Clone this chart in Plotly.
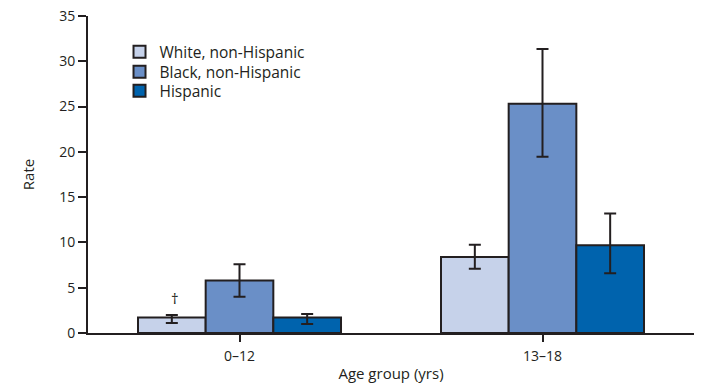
import plotly.graph_objects as go

categories = ["0–12", "13–18"]
series_names = ["White, non-Hispanic", "Black, non-Hispanic", "Hispanic"]
white_vals = [1.7, 8.4]
white_hi = [2.0, 9.75]
white_lo = [1.1, 7.1]
black_vals = [5.8, 25.3]
black_hi = [7.6, 31.35]
black_lo = [4.0, 19.45]
hisp_vals = [1.7, 9.7]
hisp_hi = [2.1, 13.2]
hisp_lo = [1.0, 6.6]
y_ticks = [0, 5, 10, 15, 20, 25, 30, 35]

colors = ["#c6d2ea", "#6a8fc7", "#0063ad"]
dark = "#231f20"
font_family = "Open Sans, Noto Sans, sans-serif"
legend_ids = ["legend", "legend2", "legend3"]
legend_rows = [0.886, 0.823, 0.763]

fig = go.Figure()
for i, (name, vals, hi, lo, col) in enumerate([
    (series_names[0], white_vals, white_hi, white_lo, colors[0]),
    (series_names[1], black_vals, black_hi, black_lo, colors[1]),
    (series_names[2], hisp_vals, hisp_hi, hisp_lo, colors[2]),
]):
    fig.add_trace(go.Bar(
        x=categories, y=vals, name=name, legend=legend_ids[i],
        marker=dict(color=col, line=dict(color=dark, width=2)),
        error_y=dict(type="data", symmetric=False,
                     array=[h - v for h, v in zip(hi, vals)],
                     arrayminus=[v - l for v, l in zip(vals, lo)],
                     color=dark, thickness=2, width=6),
    ))

fig.add_annotation(x=categories[0], y=3.9, xshift=-65, text="†", showarrow=False,
                   font=dict(size=15, color=dark, family=font_family))

legend_common = dict(x=0.052, xanchor="left", yanchor="middle",
                     bgcolor="rgba(0,0,0,0)", font=dict(size=15.5, color=dark),
                     itemwidth=30)

fig.update_layout(
    width=719, height=385,
    margin=dict(l=88, r=25, t=16, b=52),
    paper_bgcolor="white", plot_bgcolor="white",
    barmode="group", bargap=0.33, bargroupgap=0,
    font=dict(family=font_family, size=14, color=dark),
    showlegend=True,
    legend=dict(y=legend_rows[0], **legend_common),
    legend2=dict(y=legend_rows[1], **legend_common),
    legend3=dict(y=legend_rows[2], **legend_common),
    xaxis=dict(range=[-0.5, 1.5], showline=True, linecolor=dark, linewidth=2,
               ticks="outside", ticklen=7, tickwidth=2, tickcolor=dark,
               showgrid=False, zeroline=False, automargin=False,
               tickfont=dict(size=14), ticklabelstandoff=2,
               title=dict(text="Age group (yrs)", standoff=5, font=dict(size=15))),
    yaxis=dict(range=[0, 35], tickvals=y_ticks, showline=True, linecolor=dark, linewidth=2,
               ticks="outside", ticklen=8, tickwidth=2, tickcolor=dark,
               showgrid=False, zeroline=False, automargin=False,
               ticklabeloverflow="allow",
               tickfont=dict(size=14),
               title=dict(text="Rate", standoff=21, font=dict(size=15))),
)

# Remove the default 8px page margin so the 719x385 figure fills the window.
fig.write_html("out.html", config={"displayModeBar": False},
               post_script="document.body.style.margin='0';")
